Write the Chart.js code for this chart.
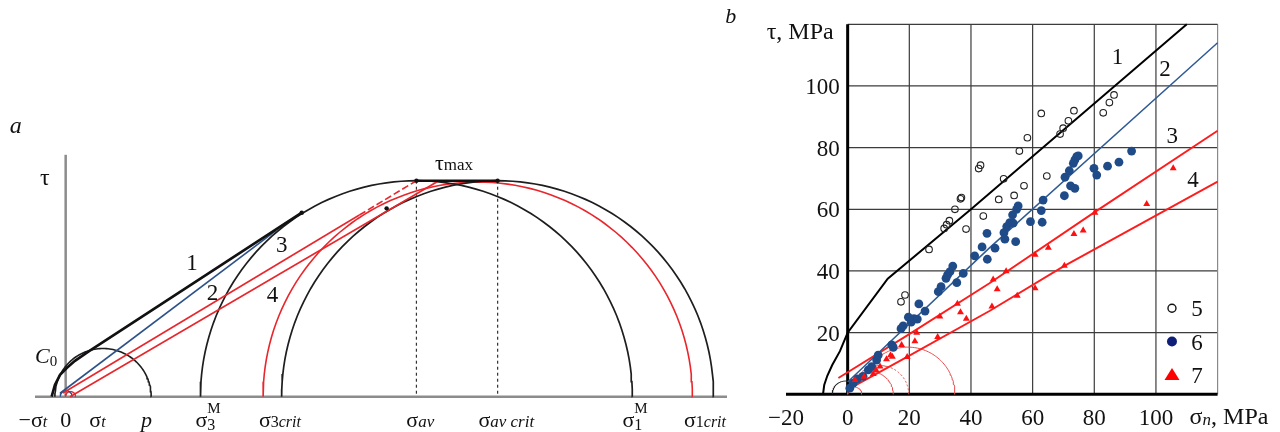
<!DOCTYPE html>
<html>
<head>
<meta charset="utf-8">
<script src="https://cdn.jsdelivr.net/npm/chart.js@4.4.0/dist/chart.umd.min.js"></script>
<style>
  body { margin: 0; background: #fff; }
  #wrap { position: relative; width: 1280px; height: 432px; overflow: hidden; }
  canvas { position: absolute; top: 0; }
  #chartA { left: 0; }
  #chartB { left: 720px; }
</style>
</head>
<body>
<div id="wrap">
  <canvas id="chartA" width="740" height="432"></canvas>
  <canvas id="chartB" width="560" height="432"></canvas>
</div>
<script>
// ---------- panel a: Mohr diagram (units chosen so that tau_max = 100) ----------
const sigmaTickNames = ['−σt', '0', 'σt', 'p', 'σ3M', 'σ3crit', 'σav', 'σav crit', 'σ1M', 'σ1crit'];
const sigmaTickValues = [-15.2, 0, 14.7, 37.4, 64.7, 99.2, 164.2, 204, 262.4, 296];

// circles: small (-σt..p), M (σ3M..σ1M), crit (σ3crit..σ1crit), red crit, tiny blue, tiny red
const circleCentres = [17.3, 162.4, 200, 190.8, 0.2, 2.2];
const circleRadii = [22.3, 100, 100, 99.4, 2.8, 2.4];

const envelopeX = [-6.5, -5, -2.6, 0.5, 4.3, 10.5, 109.3];
const envelopeY = [0, 5.4, 10.1, 13.3, 16.6, 20.9, 85.2];
const blueLineX = [-2.6, 97.5];
const blueLineY = [1.6, 77];
const redUpperX = [-1.25, 136, 162.4];
const redUpperY = [1.7, 84.1, 100];
const redLowerX = [2, 172];
const redLowerY = [0, 99.5];
const knotX = [109.3, 148.6, 162.4, 200];
const knotY = [85.2, 87.2, 100, 100];

const curveLabelsA = ['1', '2', '3', '4'];
const curveLabelXA = [58.5, 68, 100, 95.8];
const curveLabelYA = [58.7, 44.8, 67.1, 44.0];

// ---------- panel b: tau vs sigma_n, MPa ----------
const xTicksB = [-20, 0, 20, 40, 60, 80, 100];
const yTicksB = [20, 40, 60, 80, 100];
const gridB = [20, 40, 60, 80, 100, 120];

const line1X = [-8, -7.6, -6.6, -5, -2.5, 0, 13, 40, 110];
const line1Y = [0, 3, 6, 9.5, 14, 20, 37.5, 60, 120];
const line2X = [0, 46, 120];
const line2Y = [4, 47.5, 114];
const line3X = [-3, 20, 46, 80, 120];
const line3Y = [5.3, 19.5, 36, 59, 85.5];
const line4X = [0, 19, 46, 70, 120];
const line4Y = [1.5, 12, 27, 41.5, 69];

const openX = [17.3, 18.6, 26.4, 31.3, 32.1, 33, 34.8, 36.6, 36.9, 38.4, 42.5, 43.1, 44, 49, 50.6, 54, 55.7, 57.2, 58.3, 62.8, 64.6, 68.9, 69.9, 71.6, 73.4, 82.9, 84.9, 86.4];
const openY = [30, 32.2, 47, 53.8, 55, 56.3, 60, 63.4, 63.8, 53.6, 73.2, 74.3, 57.8, 63.2, 69.9, 64.5, 78.9, 67.6, 83.2, 91.1, 70.8, 84.4, 86.3, 88.7, 92, 91.3, 94.6, 97.1];

const blueX = [0.7, 1.8, 3.2, 5, 6.7, 7.8, 9.4, 9.9, 14.3, 14.8, 17.3, 18, 19.7, 20.6, 21.5, 22.6, 23.1, 25.1, 29.4, 30.3, 31.9, 32.4, 33.2, 34.1, 35.4, 37.5, 41.2, 43.6, 45.2, 45.3, 47.8, 50.7, 51, 51.6, 52.6, 53.7, 53.5, 54.5, 54.8, 55.3, 59.3, 62.8, 63.1, 63.4, 70.3, 70.5, 71.9, 72.3, 73.7, 73.2, 73.7, 74.3, 74.8, 79.9, 80.8, 84.3, 88, 92.1];
const blueY = [2, 3.6, 5, 5.8, 7.9, 9, 11.1, 12.7, 16, 15.2, 21.3, 22.2, 25, 23.4, 24.5, 24.4, 29.3, 27, 33.3, 34.9, 37.6, 38.7, 39.8, 41.6, 36.2, 39.2, 44.9, 47.8, 52.2, 43.8, 47.4, 52.4, 50.3, 54.4, 55.7, 55.5, 58.2, 49.5, 60, 61.1, 56, 59.6, 55.8, 63, 64.4, 70.4, 72.5, 67.6, 66.8, 74.9, 76, 77.1, 77.3, 73.3, 71.1, 74, 75.3, 78.9];

const redX = [2.4, 5.3, 8.3, 9.2, 10.5, 12.6, 13.9, 14.5, 17.5, 19.3, 21.8, 22.4, 29.2, 29.9, 35.6, 36.6, 38.5, 46.8, 47.2, 48.5, 51.4, 55, 60.8, 60.8, 65.1, 70.3, 73.4, 76.4, 80.2, 97, 105.6];
const redY = [4.6, 5.7, 6.6, 7.9, 9, 11.4, 12.7, 12.2, 16, 12.1, 17.2, 20, 18.6, 25.2, 29.4, 26.6, 24.5, 28.5, 37.2, 34.1, 39.9, 32, 45.3, 34.4, 47.5, 41.7, 52, 53.1, 58.9, 61.7, 73.3];

// small Mohr arcs near the origin of panel b
const arcCentresB = [19.5, 10.5, 7.5, 2.3, -0.7];
const arcRadiiB = [15.3, 9.3, 7.3, 2.3, 4.3];

const curveLabelsB = ['1', '2', '3', '4'];
const curveLabelXB = [87.5, 102.9, 105.3, 112];
const curveLabelYB = [107.1, 103.1, 81.4, 67.3];
const legendLabels = ['5', '6', '7'];

// ---------- helpers ----------
const zip = (xs, ys) => xs.map((v, i) => ({ x: v, y: ys[i] }));
function arcPoints(cx, r, from, to) {
  const pts = [];
  for (let a = from; a <= to + 0.001; a += 2) {
    const t = a * Math.PI / 180;
    pts.push({ x: cx + r * Math.cos(t), y: r * Math.sin(t) });
  }
  return pts;
}
function ln(data, color, width, dash) {
  return { data, showLine: true, pointRadius: 0, borderColor: color, borderWidth: width,
    borderDash: dash || [], fill: false, clip: false, tension: 0 };
}
function seg(ctx, x1, y1, x2, y2) {
  ctx.beginPath(); ctx.moveTo(x1, y1); ctx.lineTo(x2, y2); ctx.stroke();
}
const R = s => s + 'px "Liberation Serif"';
const I = s => 'italic ' + s + 'px "Liberation Serif"';
// parts: [text, font, dy, advance]
function drawRich(ctx, parts, x, y, align) {
  let w = 0;
  parts.forEach(p => { ctx.font = p[1]; if (p[3] !== 0) w += ctx.measureText(p[0]).width; });
  let cx = align === 'center' ? x - w / 2 : (align === 'right' ? x - w : x);
  ctx.textAlign = 'left';
  parts.forEach(p => {
    ctx.font = p[1];
    ctx.fillText(p[0], cx, y + (p[2] || 0));
    if (p[3] !== 0) cx += ctx.measureText(p[0]).width;
  });
}
const richA = {
  '−σt': [['−σ', R(22)], ['t', I(16)]],
  '0': [['0', R(22)]],
  'σt': [['σ', R(22)], ['t', I(16)]],
  'p': [['p', I(22)]],
  'σ3M': [['σ', R(22)], ['M', R(15), -14, 0], ['3', R(16), 3]],
  'σ3crit': [['σ', R(22)], ['3', R(16)], ['crit', I(16)]],
  'σav': [['σ', R(22)], ['av', I(17)]],
  'σav crit': [['σ', R(22)], ['av crit', I(17)]],
  'σ1M': [['σ', R(22)], ['M', R(15), -14, 0], ['1', R(16), 3]],
  'σ1crit': [['σ', R(22)], ['1', R(16)], ['crit', I(16)]]
};

const RED = '#e8262b';
const INK = '#1e1e1e';

// ---------- chart a ----------
const mohrPlugin = {
  id: 'mohr',
  beforeDatasetsDraw(chart) {
    const { ctx, chartArea, scales: { x, y } } = chart;
    ctx.save();
    ctx.strokeStyle = '#8c8c8c';
    ctx.lineWidth = 2.5;
    seg(ctx, chartArea.left, y.getPixelForValue(0), chartArea.right, y.getPixelForValue(0));
    seg(ctx, x.getPixelForValue(0), y.getPixelForValue(0), x.getPixelForValue(0), chartArea.top);
    ctx.strokeStyle = '#333';
    ctx.lineWidth = 1.2;
    ctx.setLineDash([3, 3]);
    [1, 2].forEach(i => {
      const px = x.getPixelForValue(circleCentres[i]);
      seg(ctx, px, y.getPixelForValue(circleRadii[i]), px, y.getPixelForValue(0));
    });
    ctx.restore();
  },
  afterDatasetsDraw(chart) {
    const { ctx, scales: { x, y } } = chart;
    ctx.save();
    ctx.fillStyle = '#111';
    ctx.textBaseline = 'alphabetic';
    const base = y.getPixelForValue(0) + 30;
    sigmaTickNames.forEach((name, i) => {
      drawRich(ctx, richA[name], x.getPixelForValue(sigmaTickValues[i]), base, 'center');
    });
    curveLabelsA.forEach((t, i) => {
      drawRich(ctx, [[t, R(23)]], x.getPixelForValue(curveLabelXA[i]), y.getPixelForValue(curveLabelYA[i]), 'center');
    });
    drawRich(ctx, [['τ', R(24)]], x.getPixelForValue(-9.6), y.getPixelForValue(98), 'center');
    drawRich(ctx, [['τ', R(22)], ['max', R(17)]], x.getPixelForValue(171), y.getPixelForValue(105), 'left');
    drawRich(ctx, [['C', I(22)], ['0', R(15), 3]], x.getPixelForValue(-14.2), y.getPixelForValue(15.6), 'left');
    drawRich(ctx, [['a', I(24)]], x.getPixelForValue(-23.1), y.getPixelForValue(122.1), 'center');
    ctx.restore();
  }
};

const arcA = (i, from, to) => arcPoints(circleCentres[i], circleRadii[i], from, to);

new Chart(document.getElementById('chartA'), {
  type: 'scatter',
  data: {
    datasets: [
      { data: zip(knotX, knotY), pointRadius: 2.2, pointBackgroundColor: '#111', pointBorderWidth: 0, clip: false },
      ln(zip(envelopeX, envelopeY), '#111', 2.6),
      ln([{ x: circleCentres[1], y: circleRadii[1] }, { x: circleCentres[2], y: circleRadii[2] }], '#111', 2.6),
      ln(zip(blueLineX, blueLineY), '#2d5189', 1.6),
      ln(zip(redUpperX.slice(0, 2), redUpperY.slice(0, 2)), RED, 1.6),
      ln(zip(redUpperX.slice(1), redUpperY.slice(1)), RED, 1.6, [7, 3]),
      ln(zip(redLowerX, redLowerY), RED, 1.6),
      ln(arcA(0, 0, 180), INK, 1.6),
      ln(arcA(1, 0, 180), INK, 1.7),
      ln(arcA(2, 0, 180), INK, 1.7),
      ln(arcA(3, 0, 180), RED, 1.6),
      ln(arcA(4, 0, 180), '#2d5189', 1.2),
      ln(arcA(5, 0, 180), RED, 1.2)
    ]
  },
  options: {
    responsive: false,
    animation: false,
    devicePixelRatio: 1,
    layout: { padding: { left: 35, right: 13, top: 154.8, bottom: 35.3 } },
    plugins: { legend: { display: false }, tooltip: { enabled: false } },
    scales: {
      x: { type: 'linear', min: -14.2, max: 306.2, display: false },
      y: { type: 'linear', min: 0, max: 112, display: false }
    }
  },
  plugins: [mohrPlugin]
});

// ---------- chart b ----------
const BLUE_DOT = '#1f4b88';
const gridPlugin = {
  id: 'gridB',
  beforeDatasetsDraw(chart) {
    const { ctx, scales: { x, y } } = chart;
    ctx.save();
    ctx.lineWidth = 1.2;
    gridB.forEach(v => {
      ctx.strokeStyle = v === 120 ? '#8a8a8a' : '#3c3c3c';
      const px = x.getPixelForValue(v);
      seg(ctx, px, y.getPixelForValue(0), px, y.getPixelForValue(120));
      ctx.strokeStyle = '#3c3c3c';
      const py = y.getPixelForValue(v);
      seg(ctx, x.getPixelForValue(0), py, x.getPixelForValue(120), py);
    });
    ctx.strokeStyle = '#000';
    ctx.lineWidth = 3;
    seg(ctx, x.getPixelForValue(0), y.getPixelForValue(0), x.getPixelForValue(0), y.getPixelForValue(120));
    seg(ctx, x.getPixelForValue(-20), y.getPixelForValue(0), x.getPixelForValue(120), y.getPixelForValue(0));
    ctx.restore();
  },
  afterDatasetsDraw(chart) {
    const { ctx, scales: { x, y } } = chart;
    ctx.save();
    ctx.fillStyle = '#111';
    ctx.textBaseline = 'alphabetic';
    ctx.font = R(23);
    ctx.textAlign = 'center';
    xTicksB.forEach(v => {
      ctx.fillText(v < 0 ? '−' + (-v) : String(v), x.getPixelForValue(v), y.getPixelForValue(0) + 31);
    });
    ctx.textAlign = 'right';
    yTicksB.forEach(v => {
      ctx.fillText(String(v), x.getPixelForValue(0) - 8, y.getPixelForValue(v) + 8);
    });
    drawRich(ctx, [['τ, MPa', R(24)]], x.getPixelForValue(0) - 14, y.getPixelForValue(120) + 15, 'right');
    drawRich(ctx, [['σ', R(24)], ['n', I(17), 1], [', MPa', R(24)]], x.getPixelForValue(120) - 28, y.getPixelForValue(0) + 30, 'left');
    drawRich(ctx, [['b', I(22)]], x.getPixelForValue(0) - 117, y.getPixelForValue(120) - 1, 'center');
    curveLabelsB.forEach((t, i) => {
      drawRich(ctx, [[t, R(23)]], x.getPixelForValue(curveLabelXB[i]), y.getPixelForValue(curveLabelYB[i]), 'center');
    });
    // legend
    const mx = x.getPixelForValue(105.2);
    const lx = x.getPixelForValue(113.3);
    const rows = [27.9, 17.1, 6.3].map(v => y.getPixelForValue(v));
    ctx.strokeStyle = '#111';
    ctx.lineWidth = 1.4;
    ctx.beginPath(); ctx.arc(mx, rows[0], 4, 0, Math.PI * 2); ctx.stroke();
    ctx.fillStyle = '#0f1f78';
    ctx.beginPath(); ctx.arc(mx, rows[1], 5, 0, Math.PI * 2); ctx.fill();
    ctx.fillStyle = '#ff0000';
    ctx.beginPath();
    ctx.moveTo(mx, rows[2] - 7); ctx.lineTo(mx + 7.5, rows[2] + 5); ctx.lineTo(mx - 7.5, rows[2] + 5);
    ctx.closePath(); ctx.fill();
    ctx.fillStyle = '#111';
    legendLabels.forEach((t, i) => drawRich(ctx, [[t, R(23)]], lx, rows[i] + 8, 'center'));
    ctx.restore();
  }
};

const arcB = (i, from, to) => arcPoints(arcCentresB[i], arcRadiiB[i], from, to);

new Chart(document.getElementById('chartB'), {
  type: 'scatter',
  data: {
    datasets: [
      { data: zip(redX, redY), pointStyle: 'triangle', pointRadius: 4, pointBackgroundColor: '#ff1010', pointBorderWidth: 0, clip: false },
      { data: zip(blueX, blueY), pointStyle: 'circle', pointRadius: 4.4, pointBackgroundColor: BLUE_DOT, pointBorderWidth: 0, clip: false },
      { data: zip(openX, openY), pointStyle: 'circle', pointRadius: 3.3, pointBackgroundColor: 'rgba(255,255,255,0)', pointBorderColor: '#222', pointBorderWidth: 1.1, clip: false },
      ln(zip(line1X, line1Y), '#000', 2),
      ln(zip(line2X, line2Y), '#2f5b95', 1.5),
      ln(zip(line3X, line3Y), '#ff1c1c', 1.9),
      ln(zip(line4X, line4Y), '#ff1c1c', 1.9),
      ln(arcB(0, 0, 125), '#ea4a4a', 1),
      ln(arcB(1, 0, 76), '#ea4a4a', 1, [2, 2]),
      ln(arcB(1, 76, 150), '#ea4a4a', 1),
      ln(arcB(2, 0, 140), '#ea4a4a', 1),
      ln(arcB(3, 0, 180), '#ea4a4a', 1),
      ln(arcB(4, 55, 180), '#222', 1)
    ]
  },
  options: {
    responsive: false,
    animation: false,
    devicePixelRatio: 1,
    layout: { padding: { left: 66, right: 62.4, top: 24.3, bottom: 37.7 } },
    plugins: { legend: { display: false }, tooltip: { enabled: false } },
    scales: {
      x: { type: 'linear', min: -20, max: 120, display: false },
      y: { type: 'linear', min: 0, max: 120, display: false }
    }
  },
  plugins: [gridPlugin]
});
</script>
</body>
</html>
